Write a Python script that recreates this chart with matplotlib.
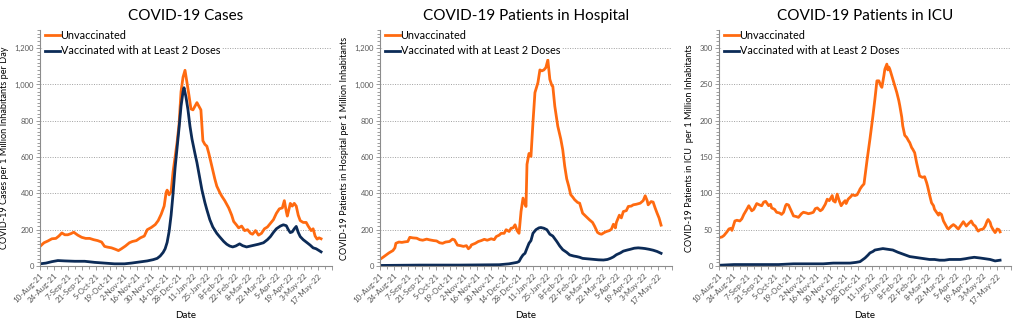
"""Three-panel COVID-19 comparison: unvaccinated vs. vaccinated (2+ doses),
cases, hospital patients and ICU patients per 1 million inhabitants."""

import matplotlib.pyplot as plt
import matplotlib.ticker as mticker
import pandas as pd

plt.rcParams["font.family"] = ["Lato", "DejaVu Sans"]

ORANGE = "#FF6A10"
NAVY = "#0C2B57"
TICK_GREY = "#595959"

START = pd.Timestamp("2021-08-10")

# Day offsets from 10-Aug-21 and the daily rates read at those days.
CASES_U_DAYS = [0, 4, 8, 12, 16, 19, 22, 25, 28, 31, 34, 38, 42, 46, 50, 54, 58, 62, 65, 68,
                72, 76, 79, 82, 86, 90, 93, 97, 101, 105, 108, 112, 116, 119, 122, 125, 127,
                128, 130, 132, 134, 136, 138, 140, 142, 144, 146, 148, 150, 152, 154, 156,
                158, 160, 162, 164, 166, 168, 170, 173, 176, 178, 181, 183, 186, 190, 193,
                195, 198, 200, 203, 206, 209, 212, 214, 217, 220, 223, 226, 229, 232, 235,
                238, 241, 244, 246, 248, 249, 251, 252, 254, 256, 258, 260, 262, 265, 268,
                270, 273, 275, 277, 279, 281, 283]
CASES_U = [108, 128, 138, 150, 152, 165, 182, 172, 172, 178, 186, 170, 158, 152, 152, 145,
           140, 132, 108, 104, 100, 92, 85, 95, 110, 128, 135, 140, 155, 165, 200, 212, 228,
           250, 285, 330, 405, 418, 392, 410, 520, 600, 680, 780, 960, 1040, 1078, 1010, 940,
           865, 860, 880, 900, 880, 860, 690, 670, 660, 620, 550, 480, 440, 405, 385, 360,
           320, 280, 245, 225, 210, 220, 195, 200, 180, 175, 195, 170, 180, 205, 215, 235,
           255, 290, 315, 320, 360, 300, 275, 320, 345, 330, 345, 330, 280, 250, 240, 240,
           220, 195, 205, 165, 148, 155, 150]
CASES_V_DAYS = [0, 6, 12, 18, 25, 35, 45, 55, 65, 75, 85, 92, 100, 108, 114, 118, 121, 124,
                126, 128, 130, 132, 134, 136, 138, 140, 142, 144, 145, 147, 149, 151, 153,
                156, 158, 161, 163, 166, 168, 171, 174, 178, 181, 185, 188, 191, 194, 197,
                201, 204, 208, 212, 216, 220, 225, 229, 232, 235, 238, 242, 245, 248, 250,
                252, 254, 256, 258, 260, 262, 265, 269, 272, 275, 278, 281, 283]
CASES_V = [12, 16, 24, 30, 28, 26, 26, 20, 16, 12, 12, 16, 22, 28, 35, 42, 55, 75, 95, 130,
           190, 280, 400, 540, 650, 760, 880, 960, 982, 930, 860, 770, 700, 620, 570, 480, 420,
           350, 310, 255, 215, 180, 160, 135, 120, 110, 105, 110, 122, 112, 105, 110, 115, 120,
           128, 145, 162, 185, 205, 220, 227, 222, 200, 184, 188, 205, 218, 185, 162, 145, 128,
           115, 100, 95, 85, 78]

HOSP_U_DAYS = [0, 3, 6, 9, 13, 15, 16, 19, 22, 25, 28, 30, 33, 37, 40, 43, 47, 50, 54, 57,
               60, 63, 66, 70, 73, 75, 78, 81, 84, 87, 89, 91, 92, 96, 99, 102, 105, 108, 112,
               115, 117, 120, 122, 125, 127, 130, 132, 134, 136, 138, 140, 142, 144, 146, 147,
               148, 150, 152, 154, 156, 159, 161, 163, 165, 167, 169, 171, 173, 174, 176, 179,
               182, 184, 186, 188, 190, 192, 194, 196, 199, 201, 204, 207, 211, 214, 216, 219,
               221, 223, 226, 228, 231, 233, 235, 237, 238, 241, 243, 245, 248, 250, 253, 255,
               258, 262, 265, 267, 269, 270, 273, 275, 277, 279, 281, 283]
HOSP_U = [37, 48, 60, 72, 85, 100, 125, 132, 130, 133, 135, 158, 155, 153, 145, 142, 148, 144,
          140, 138, 128, 125, 132, 135, 148, 144, 115, 112, 108, 112, 95, 105, 116, 125, 135,
          140, 147, 142, 150, 145, 162, 170, 180, 180, 200, 190, 208, 210, 227, 195, 180, 300,
          374, 340, 328, 560, 620, 604, 790, 955, 1010, 1080, 1075, 1080, 1093, 1135, 1028,
          995, 990, 880, 770, 700, 640, 549, 480, 440, 393, 380, 365, 350, 346, 291, 275, 254,
          240, 220, 185, 178, 175, 185, 190, 195, 203, 230, 210, 240, 280, 265, 300, 305, 328,
          330, 337, 340, 346, 360, 387, 360, 337, 355, 352, 320, 291, 264, 225]
HOSP_V_DAYS = [0, 20, 40, 60, 80, 100, 120, 126, 130, 134, 138, 140, 142, 144, 146, 148, 150,
               152, 154, 157, 160, 162, 165, 168, 171, 174, 178, 181, 184, 188, 191, 195, 198,
               201, 204, 208, 212, 216, 220, 225, 229, 232, 235, 238, 242, 245, 249, 252, 256,
               260, 264, 267, 271, 275, 279, 283]
HOSP_V = [3, 4, 5, 5, 5, 6, 7, 10, 12, 16, 20, 25, 45, 61, 70, 98, 125, 140, 180, 200, 210,
          212, 208, 200, 175, 165, 135, 110, 90, 75, 61, 55, 52, 48, 42, 40, 38, 36, 34, 33, 36,
          42, 50, 62, 72, 82, 88, 92, 98, 100, 98, 96, 92, 87, 80, 70]

ICU_U_DAYS = [0, 3, 5, 8, 10, 12, 13, 16, 18, 21, 23, 25, 28, 30, 33, 35, 38, 41, 43, 45, 47,
              49, 50, 52, 53, 56, 58, 61, 63, 65, 67, 68, 70, 72, 74, 75, 78, 80, 83, 85, 88,
              90, 93, 95, 97, 99, 102, 104, 107, 109, 111, 114, 115, 117, 119, 121, 123, 125,
              127, 128, 130, 133, 134, 137, 139, 141, 142, 144, 146, 148, 149, 152, 155, 157,
              159, 161, 163, 164, 166, 167, 169, 170, 171, 172, 174, 175, 177, 179, 181, 182,
              184, 185, 187, 189, 191, 192, 194, 195, 197, 199, 201, 202, 205, 207, 209, 210,
              212, 214, 216, 217, 219, 221, 222, 224, 226, 228, 230, 231, 234, 236, 238, 240,
              241, 244, 246, 248, 249, 251, 254, 256, 258, 260, 261, 263, 266, 268, 270, 271,
              273, 274, 276, 278, 279, 280, 282, 283]
ICU_U = [39, 40, 42, 47, 51, 52, 49, 62, 63, 62, 65, 71, 78, 83, 76, 78, 86, 84, 83, 88, 89,
         85, 83, 85, 80, 78, 74, 73, 71, 74, 83, 85, 84, 78, 72, 69, 68, 67, 72, 74, 73, 72, 73,
         74, 79, 80, 76, 78, 85, 92, 90, 97, 90, 88, 99, 90, 83, 87, 90, 86, 92, 96, 98, 97, 98,
         103, 106, 110, 113, 135, 145, 175, 207, 230, 255, 255, 248, 246, 262, 271, 278, 270,
         274, 271, 262, 257, 248, 239, 228, 221, 205, 193, 180, 177, 172, 170, 163, 161, 156,
         142, 130, 124, 122, 123, 115, 110, 98, 87, 83, 78, 74, 70, 73, 71, 62, 57, 52, 51, 55,
         57, 55, 52, 51, 57, 61, 57, 55, 58, 62, 57, 55, 50, 48, 50, 51, 55, 62, 64, 60, 55, 50,
         46, 48, 51, 50, 47]
ICU_V_DAYS = [0, 15, 30, 45, 60, 75, 90, 105, 115, 125, 132, 138, 142, 145, 147, 150, 152,
              155, 157, 161, 165, 170, 175, 180, 184, 188, 192, 197, 202, 207, 212, 217, 222,
              227, 232, 237, 243, 248, 252, 257, 263, 268, 273, 278, 283]
ICU_V = [1, 2, 2, 2, 2, 3, 3, 3, 4, 4, 4, 5, 6, 9, 11, 15, 18, 20, 22, 23, 24, 23, 22, 19, 17,
         15, 13, 12, 11, 10, 9, 9, 8, 8, 9, 9, 9, 10, 11, 12, 11, 10, 9, 7, 8]

PANELS = [
    ("COVID-19 Cases", "COVID-19 Cases per 1 Million Inhabitants per Day",
     (CASES_U_DAYS, CASES_U), (CASES_V_DAYS, CASES_V), 1300, 200),
    ("COVID-19 Patients in Hospital", "COVID-19 Patients in Hospital per 1 Million Inhabitants",
     (HOSP_U_DAYS, HOSP_U), (HOSP_V_DAYS, HOSP_V), 1300, 200),
    ("COVID-19 Patients in ICU", "COVID-19 Patients in ICU  per 1 Million Inhabitants",
     (ICU_U_DAYS, ICU_U), (ICU_V_DAYS, ICU_V), 325, 50),
]
LEFTS = [40, 380, 719]


def to_dates(days):
    return START + pd.to_timedelta(days, unit="D")


fig = plt.figure(figsize=(10.24, 3.21), dpi=100)
W, H = 1024, 321

for left, (title, ylabel, unvax, vax, ymax, ystep) in zip(LEFTS, PANELS):
    ax = fig.add_axes([left / W, 55 / H, 292 / W, 236 / H])
    ax.plot(to_dates(unvax[0]), unvax[1], color=ORANGE, lw=2.0, label="Unvaccinated",
            solid_joinstyle="round")
    ax.plot(to_dates(vax[0]), vax[1], color=NAVY, lw=2.0,
            label="Vaccinated with at Least 2 Doses", solid_joinstyle="round")

    ax.set_xlim(START, START + pd.Timedelta(days=294))
    ax.set_ylim(0, ymax)
    ax.yaxis.set_major_locator(mticker.MultipleLocator(ystep))
    ax.yaxis.set_minor_locator(mticker.MultipleLocator(ystep / 10))
    ax.yaxis.set_major_formatter(mticker.FuncFormatter(lambda v, _: f"{v:,.0f}"))
    ax.grid(axis="y", which="major", color="#A0A0A0", ls=(0, (1, 1.5)), lw=0.7)
    ax.set_axisbelow(True)

    ticks = to_dates(list(range(0, 295, 14)))
    ax.set_xticks(ticks)
    labels = [f"{d.day}-{d.strftime('%b-%y')}" for d in ticks]
    labels[-1] = ""
    ax.set_xticklabels(labels, rotation=45, ha="right", rotation_mode="anchor")
    ax.set_xticks(to_dates(list(range(7, 295, 14))), minor=True)

    for side in ("top", "right"):
        ax.spines[side].set_visible(False)
    for side in ("left", "bottom"):
        ax.spines[side].set_color("#8C8C8C")
        ax.spines[side].set_linewidth(0.8)
    ax.tick_params(axis="both", which="both", colors="#8C8C8C", labelcolor=TICK_GREY,
                   labelsize=5.5, width=0.6)
    ax.tick_params(axis="x", which="major", labelsize=5.8)
    ax.tick_params(axis="both", which="major", length=3, pad=1.5)
    ax.tick_params(axis="both", which="minor", length=2)

    ax.set_title(title, fontsize=11, pad=7)
    ax.set_ylabel(ylabel, fontsize=6.6, labelpad=4)
    ax.set_xlabel("Date", fontsize=7, labelpad=4)

    leg = ax.legend(loc="upper left", bbox_to_anchor=(0.0, 1.025), fontsize=7.8,
                    frameon=True, facecolor="white", edgecolor="none", framealpha=1,
                    handlelength=1.3, handletextpad=0.1, labelspacing=0.45,
                    borderpad=0.2, borderaxespad=0.3)
    for line in leg.get_lines():
        line.set_linewidth(2.0)

fig.savefig("out.png", dpi=100)
